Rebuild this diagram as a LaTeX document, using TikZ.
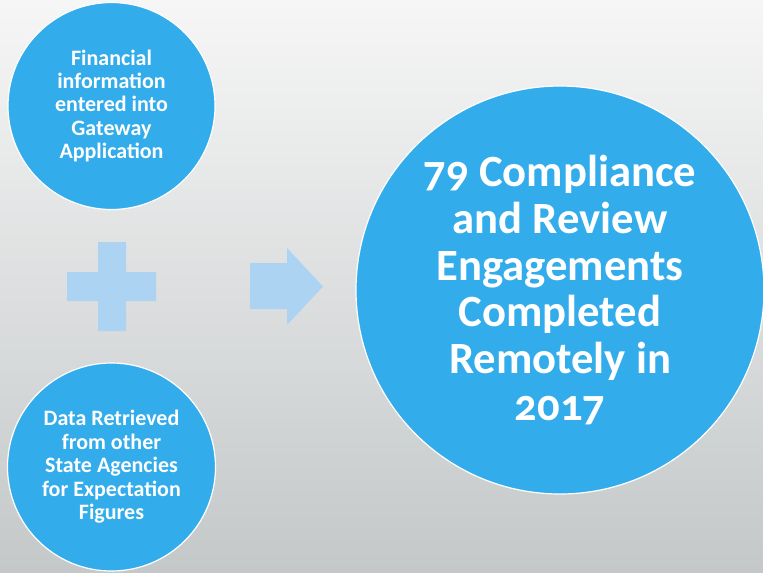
\documentclass[tikz,border=0pt]{standalone}
\usepackage{fontspec}
\setmainfont{Carlito}
\newfontfamily\oldnum[Numbers=OldStyle]{Carlito}
\usepackage{tikz}
\usetikzlibrary{positioning}

\definecolor{disc}{RGB}{51,172,235}
\definecolor{pale}{RGB}{173,211,243}
\definecolor{bgtop}{RGB}{246,246,246}
\definecolor{bgmid}{RGB}{236,236,236}
\definecolor{bgbot}{RGB}{196,200,201}

\tikzset{
  bubble/.style={circle, draw=white, line width=0.9pt, fill=disc, text=white,
    inner sep=0pt, align=center, font=\bfseries\fontsize{16.5}{17.6}\selectfont},
  bigbubble/.style={bubble, font=\oldnum\bfseries\fontsize{33.5}{35.2}\selectfont}
}

\begin{document}
\begin{tikzpicture}[x=0.75pt, y=-0.75pt]
        \path[use as bounding box] (0, 0) rectangle (763, 572);
        % background
        \shade[top color=bgtop, middle color=bgmid, bottom color=bgbot]
            (0, 0) rectangle (763, 572);
        % input circles
        \node[bubble, minimum size=207*0.75pt] (finance) at (111.5, 106)
            {Financial\\information\\entered into\\Gateway\\Application};
        \node[bubble, minimum size=208*0.75pt] (agencies) at (111.5, 467)
            {Data Retrieved\\from other\\State Agencies\\for Expectation\\Figures};
        % result
        \node[bigbubble, minimum size=408*0.75pt] (result) at (560, 290)
            {79 Compliance\\and Review\\Engagements\\Completed\\Remotely in\\2017};
        % plus sign
        \fill[pale] (98, 242) -- (126, 242) -- (126, 272) -- (156, 272) -- (156, 301)
            -- (126, 301) -- (126, 331) -- (98, 331) -- (98, 301) -- (67, 301)
            -- (67, 272) -- (98, 272) -- cycle;
        % block arrow
        \fill[pale] (250, 263) -- (287, 263) -- (287, 248) -- (323, 286.5)
            -- (287, 325) -- (287, 309) -- (250, 309) -- cycle;
    \end{tikzpicture}
\end{document}
